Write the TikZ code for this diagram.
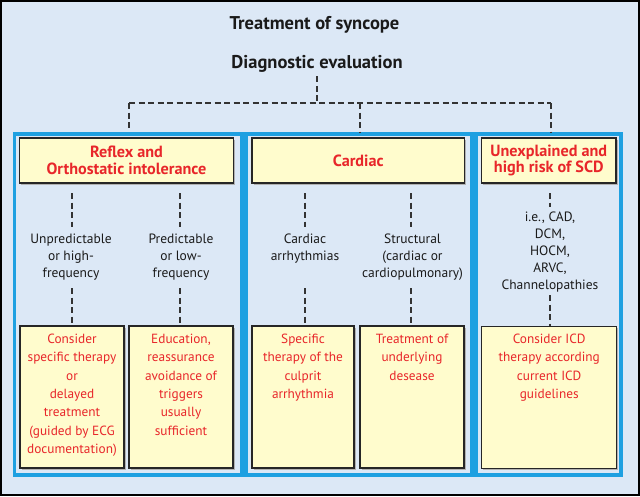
\documentclass[tikz,border=0pt]{standalone}
\usepackage{fontspec}
\setmainfont{PT Sans}
\usetikzlibrary{calc,shadows}
\definecolor{bg}{HTML}{DCE8F6}
\definecolor{pblue}{HTML}{1EA0E1}
\definecolor{byellow}{HTML}{FFFCCD}
\definecolor{tred}{HTML}{E8262A}
\definecolor{tblack}{HTML}{1A1A1A}
\tikzset{
  panel/.style={draw=pblue, line width=3.4pt, rectangle, inner sep=0pt},
  hbox/.style={draw=black!85, line width=1.1pt, fill=byellow, rectangle, inner sep=0pt,
     drop shadow={shadow xshift=1.6pt, shadow yshift=-1.6pt, fill=black!30, opacity=1},
     text=tred, align=center, font=\bfseries\fontsize{16.2}{16.7}\selectfont},
  bbox/.style={draw=black!85, line width=1.1pt, fill=byellow, rectangle, inner sep=0pt,
     drop shadow={shadow xshift=1.6pt, shadow yshift=-1.6pt, fill=black!30, opacity=1}},
  midtxt/.style={font=\fontsize{13.5}{17}\selectfont, align=center, inner sep=0pt, text=tblack, anchor=north},
  redtxt/.style={text=tred, font=\fontsize{13.3}{18.3}\selectfont, align=center, inner sep=0pt, anchor=north},
  dsh/.style={dash pattern=on 6pt off 3.5pt, line width=1.1pt, draw=black!80},
  ttl/.style={font=\bfseries\fontsize{18.5}{20}\selectfont, text=tblack, anchor=base, inner sep=0pt}
}
\begin{document}
\begin{tikzpicture}[x=1pt,y=-1pt]
\useasboundingbox (0,0) rectangle (640,496);
\fill[bg] (0,0) rectangle (640,496);
\draw[black, line width=2pt] (1,1) rectangle (639,495);
% titles
\node[ttl] (title) at (314.5,29.3) {Treatment of syncope};
\node[ttl] (diag) at (317,68.3) {Diagnostic evaluation};
% panels
\node[panel, minimum width=227.5pt, minimum height=341pt] (p1) at (128.25,304.5) {};
\node[panel, minimum width=226pt, minimum height=341pt] (p2) at (359,304.5) {};
\node[panel, minimum width=145pt, minimum height=341pt] (p3) at (548.5,304.5) {};
% header boxes
\node[hbox, minimum width=214pt, minimum height=45pt] (h1) at (126.5,160.5) {Reflex and\\Orthostatic intolerance};
\node[hbox, minimum width=212.5pt, minimum height=45pt] (h2) at (358.25,160.5) {Cardiac};
\node[hbox, minimum width=134.4pt, minimum height=45pt] (h3) at (548.8,160.5) {Unexplained and\\high risk of SCD};
% top connectors
\coordinate (j) at (317,103);
\coordinate (jl) at (129,103);
\coordinate (jm) at (360,103);
\coordinate (jr) at (551,103);
\draw[dsh] ([yshift=-8pt]diag.base) -- (j);
\draw[dsh] (jl) -- (jr);
\draw[dsh] (jl) -- (129,128);
\draw[dsh] (jm) -- (jm |- p2.north);
\draw[dsh] (jr) -- (jr |- p3.north);
% bottom boxes
\node[bbox, minimum width=104pt, minimum height=142pt] (b1) at (72,397) {};
\node[bbox, minimum width=104pt, minimum height=142pt] (b2) at (181,397) {};
\node[bbox, minimum width=102pt, minimum height=142pt] (b3) at (303,397) {};
\node[bbox, minimum width=104pt, minimum height=142pt] (b4) at (412,397) {};
\node[bbox, minimum width=135pt, minimum height=142pt] (b5) at (549.2,397.8) {};
% middle texts
\node[midtxt] (m1) at (71,234) {Unpredictable\\or high-\\frequency};
\node[midtxt] (m2) at (181,234) {Predictable\\or low-\\frequency};
\node[midtxt] (m3) at (305,234) {Cardiac\\arrhythmias};
\node[midtxt] (m4) at (412.5,234) {Structural\\(cardiac or\\cardiopulmonary)};
\node[midtxt] (m5) at (550,212) {i.e., CAD,\\DCM,\\HOCM,\\ARVC,\\Channelopathies};
% column dashes
\foreach \m/\b/\x in {m1/b1/72, m2/b2/180, m3/b3/305, m4/b4/411} {
  \draw[dsh] (\x,193) -- (\x,227);
  \draw[dsh] (\x,288) -- (\b.north -| \x,0);
}
\draw[dsh] (550,193) -- (550,207);
\draw[dsh] (550,295) -- (b5.north -| 550,0);
% red texts
\node[redtxt] (r1) at (72,334) {Consider\\specific therapy\\or\\delayed\\treatment\\(guided by ECG\\documentation)};
\node[redtxt] (r2) at (181,334) {Education,\\reassurance\\avoidance of\\triggers\\usually\\sufficient};
\node[redtxt] (r3) at (303,334) {Specific\\therapy of the\\culprit\\arrhythmia};
\node[redtxt] (r4) at (412,334) {Treatment of\\underlying\\desease};
\node[redtxt] (r5) at (549.2,334) {Consider ICD\\therapy according\\current ICD\\guidelines};
\end{tikzpicture}
\end{document}
